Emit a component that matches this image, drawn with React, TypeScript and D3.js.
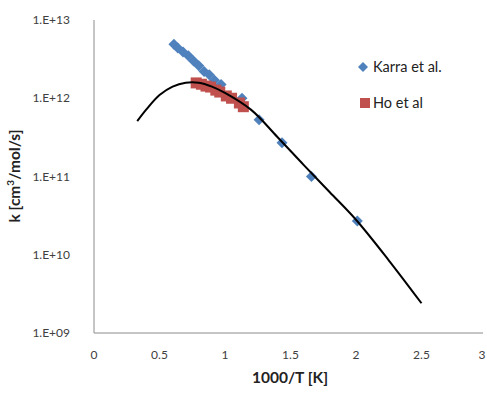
import React from 'react';
import * as d3 from 'd3';

// Karra et al. (blue diamonds)
const karraX = [0.61, 0.64, 0.68, 0.72, 0.76, 0.8, 0.84, 0.88, 0.92, 0.97, 1.13, 1.26, 1.435, 1.66, 2.01];
const karraK = [4.9e12, 4.4e12, 3.9e12, 3.5e12, 3.0e12, 2.6e12, 2.2e12, 2.0e12, 1.7e12, 1.5e12, 1.0e12, 5.3e11, 2.7e11, 1.0e11, 2.7e10];

// Ho et al (red squares)
const hoX = [0.78, 0.82, 0.855, 0.89, 0.93, 0.96, 1.01, 1.05, 1.11, 1.14];
const hoK = [1.57e12, 1.51e12, 1.43e12, 1.39e12, 1.27e12, 1.2e12, 1.07e12, 1.0e12, 8.7e11, 7.8e11];

// fitted curve (black line)
const fitX = [0.33, 0.4, 0.5, 0.6, 0.7, 0.8, 0.9, 1.0, 1.2, 1.4, 1.6, 1.8, 2.0, 2.25, 2.5];
const fitK = [5.1e11, 7.2e11, 1.1e12, 1.41e12, 1.58e12, 1.58e12, 1.41e12, 1.17e12, 7.1e11, 3.2e11, 1.41e11, 6.3e10, 2.8e10, 8.5e9, 2.4e9];

const xTicks = [0, 0.5, 1, 1.5, 2, 2.5, 3];
const yTicks = [1e9, 1e10, 1e11, 1e12, 1e13];
const yTickLabels = ['1.E+09', '1.E+10', '1.E+11', '1.E+12', '1.E+13'];

const W = 487;
const H = 393;
const left = 94;
const top = 20;
const bottom = 333;

const App = () => {
  const x = d3.scaleLinear().domain([0, 3]).range([left, left + 393]);
  const y = d3.scaleLog().domain([1e9, 1e13]).range([bottom, top]);

  const line = d3.line<number>()
    .x((d, i) => x(fitX[i]))
    .y(d => y(d))
    .curve(d3.curveCatmullRom.alpha(0.5));

  const diamond = (cx: number, cy: number, r: number) =>
    `M${cx},${cy - r}L${cx + r},${cy}L${cx},${cy + r}L${cx - r},${cy}Z`;

  const font = 'Lato, "Open Sans", sans-serif';
  const blue = '#4F81BD';
  const red = '#C0504D';

  return (
    <svg width={W} height={H} style={{ position: 'absolute', left: 0, top: 0, background: '#fff' }}>
      {/* axes */}
      <line x1={left} y1={top} x2={left} y2={bottom} stroke="#8c8c8c" strokeWidth={1} />
      <line x1={left} y1={bottom} x2={483} y2={bottom} stroke="#8c8c8c" strokeWidth={1} />

      {yTicks.map((t, i) => (
        <text key={t} x={70} y={y(t)} dy="0.35em" textAnchor="end" fontSize={12} fontFamily={font} fill="#404040">
          {yTickLabels[i]}
        </text>
      ))}
      {xTicks.map(t => (
        <text key={t} x={Math.min(x(t), 482)} y={355} dy="0.35em" textAnchor="middle" fontSize={12} fontFamily={font} fill="#404040">
          {t}
        </text>
      ))}

      <text x={290} y={378} dy="0.35em" textAnchor="middle" fontSize={15.5} fontWeight="bold" fontFamily={font} fill="#222">
        1000/T [K]
      </text>
      <text transform="translate(15,176) rotate(-90)" textAnchor="middle" dy="0.35em" fontSize={15.5} fontWeight="bold" fontFamily={font} fill="#222">
        k [cm<tspan dy="-6" fontSize={10}>3</tspan><tspan dy="6">/mol/s]</tspan>
      </text>

      {/* markers */}
      {karraX.map((v, i) => (
        <path key={'k' + i} d={diamond(x(v), y(karraK[i]), 5.5)} fill={blue} />
      ))}
      {hoX.map((v, i) => (
        <rect key={'h' + i} x={x(v) - 5.5} y={y(hoK[i]) - 5.5} width={11} height={11} fill={red} />
      ))}

      <path d={line(fitK) || ''} fill="none" stroke="#000" strokeWidth={2} />

      {/* legend */}
      <path d={diamond(363, 67, 5)} fill={blue} />
      <text x={373} y={67} dy="0.35em" fontSize={14.5} fontFamily={font} fill="#222">Karra et al.</text>
      <rect x={360} y={98} width={10} height={10} fill={red} />
      <text x={373} y={103} dy="0.35em" fontSize={14.5} fontFamily={font} fill="#222">Ho et al</text>
    </svg>
  );
};

export default App;
